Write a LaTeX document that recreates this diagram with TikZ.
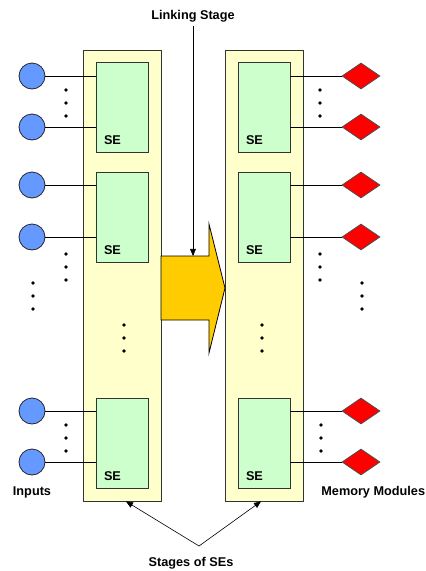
\documentclass[tikz,border=0pt]{standalone}
\usepackage{fontspec}
\setmainfont{Liberation Sans}
\usepackage{tikz}
\usetikzlibrary{shapes,arrows}

\begin{document}
\begin{tikzpicture}[x=1pt,y=-1pt,line width=0.8pt,font=\fontsize{12.7}{15}\selectfont\bfseries]
\useasboundingbox (0,0) rectangle (426,571);
\definecolor{stageColor}{RGB}{255,255,204}
\definecolor{seColor}{RGB}{204,255,204}
\definecolor{inColor}{RGB}{102,153,255}
\definecolor{memColor}{RGB}{255,0,0}
\definecolor{linkColor}{RGB}{255,204,0}
\tikzset{
  stagebox/.style={draw=black!80,fill=stageColor,inner sep=0pt,minimum width=78pt,minimum height=451pt},
  sebox/.style={draw=black!80,fill=seColor,inner sep=0pt,minimum width=52pt,minimum height=90pt},
  inport/.style={circle,draw=black!85,fill=inColor,inner sep=0pt,minimum size=26pt},
  memport/.style={diamond,draw=black!70,fill=memColor,inner sep=0pt,minimum width=38pt,minimum height=26pt},
  dotmark/.style={circle,fill=black,inner sep=0pt,minimum size=3.6pt}
}
\node[stagebox] (lstage) at (122,275.5) {};
\node[stagebox] (rstage) at (264,275.5) {};
\foreach \i/\y in {1/107.5,2/217,3/443} {
  \node[sebox] (lse\i) at (122,\y) {};
  \node[sebox] (rse\i) at (264,\y) {};
  \node[anchor=base west,inner sep=0pt] (lsename\i) at ([xshift=8pt,yshift=8pt]lse\i.south west) {SE};
  \node[anchor=base west,inner sep=0pt] (rsename\i) at ([xshift=8pt,yshift=8pt]rse\i.south west) {SE};
}
\foreach \i/\y/\s in {1/76/1,2/127/1,3/185/2,4/237/2,5/411/3,6/462/3} {
  \node[inport] (in\i) at (32,\y) {};
  \node[memport] (mem\i) at (361,\y) {};
  \draw (in\i) -- (in\i -| lse\s.west);
  \draw (mem\i) -- (mem\i -| rse\s.east);
}
\foreach \x/\y [count=\n] in {66/90,320/90,66/254,320/254,33/283,362/283,124/325,262/325,66/425,321/425}
  \foreach \k in {0,1,2}
    \node[dotmark] (dot\n-\k) at (\x,\y+13*\k) {};
\draw[fill=linkColor] (161,256) -- (193,256) coordinate (linkin) -- (209,256) -- (209,224) -- (225,288) -- (209,353) -- (209,320) -- (161,320) -- cycle;
\node (link) at (193,16) {Linking Stage};
\draw[->,>=triangle 45,line width=0.6pt] (link) -- (linkin);
\node (stages) at (191,563) {Stages of SEs};
\coordinate (fork) at (199,546);
\draw[->,>=triangle 45,line width=0.6pt] (fork) -- ([xshift=4pt]lstage.south);
\draw[->,>=triangle 45,line width=0.6pt] (fork) -- ([xshift=-3pt]rstage.south);
\node (inputs) at (32,492) {Inputs};
\node[anchor=east,inner sep=0pt] (memory) at (425.5,492) {Memory Modules};
\end{tikzpicture}
\end{document}
